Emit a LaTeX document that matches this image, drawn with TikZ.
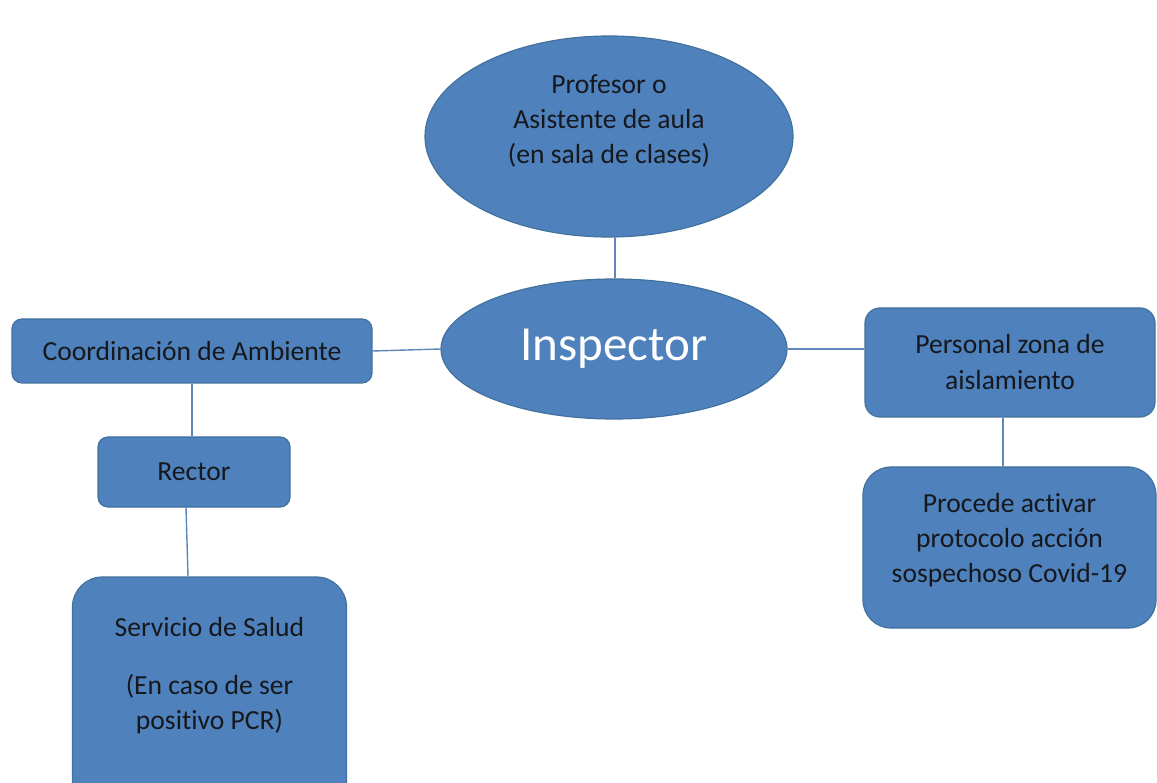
\documentclass[tikz,border=0pt]{standalone}
\usepackage{fontspec}
\setmainfont{Carlito}[Ligatures={NoCommon}]
\usetikzlibrary{shapes.geometric}
\definecolor{boxfill}{HTML}{4F81BD}
\definecolor{boxedge}{HTML}{41719C}
\definecolor{linkc}{HTML}{5E86B9}
\definecolor{txt}{HTML}{15181D}
\begin{document}
\begin{tikzpicture}[x=1pt,y=-1pt,
  rbox/.style={draw=boxedge, fill=boxfill, line width=1.2pt, rounded corners=10pt,
    inner sep=0pt, text=txt, font=\fontsize{27.6}{36}\selectfont, align=center},
  ell/.style={ellipse, draw=boxedge, fill=boxfill, line width=1.2pt, inner sep=0pt},
  lbl/.style={inner sep=0pt, text=txt, font=\fontsize{27.6}{35}\selectfont, align=center},
  link/.style={draw=linkc, line width=1.4pt}]
\useasboundingbox (0,0) rectangle (1157,783);
\clip (0,0) rectangle (1157,783);
\fill[white] (0,0) rectangle (1157,783);

% top ellipse
\node[ell, minimum width=368, minimum height=201] (prof) at (609,136.5) {};
\node[lbl] (proflbl) at (609,121) {Profesor o\\Asistente de aula\\(en sala de clases)};

% inspector
\node[ell, minimum width=346, minimum height=140, text=white,
      font=\fontsize{49}{55}\selectfont] (insp) at (614,349) {Inspector};

% left column
\node[rbox, minimum width=360, minimum height=64] (coord) at (192,351) {Coordinación de Ambiente};
\node[rbox, minimum width=192, minimum height=70] (rector) at (194,472) {Rector};
\node[rbox, rounded corners=30pt, minimum width=274, minimum height=253] (serv) at (209.5,703.5) {};
\node[lbl] (servlbl1) at (209.5,627) {Servicio de Salud};
\node[lbl] (servlbl2) at (209.5,704) {(En caso de ser\\positivo PCR)};

% right column
\node[rbox, rounded corners=15pt, minimum width=290, minimum height=109] (pers) at (1010,362.5) {Personal zona de\\aislamiento};
\node[rbox, rounded corners=28pt, minimum width=293, minimum height=161] (proc) at (1009.5,547.5) {};
\node[lbl] (proclbl) at (1009.5,540) {Procede activar\\protocolo acción\\sospechoso Covid-19};

% connectors
\draw[link] ([xshift=6]prof.south) -- ([xshift=1]insp.north);
\draw[link] (coord.east) -- (insp.west);
\draw[link] (insp.east) -- (insp.east -| pers.west);
\draw[link] (coord.south) -- (coord.south |- rector.north);
\draw[link] ([xshift=-8]rector.south) -- ([xshift=-21.5]serv.north);
\draw[link] ([xshift=-7]pers.south) -- ([xshift=-6.5]proc.north);
\end{tikzpicture}
\end{document}
